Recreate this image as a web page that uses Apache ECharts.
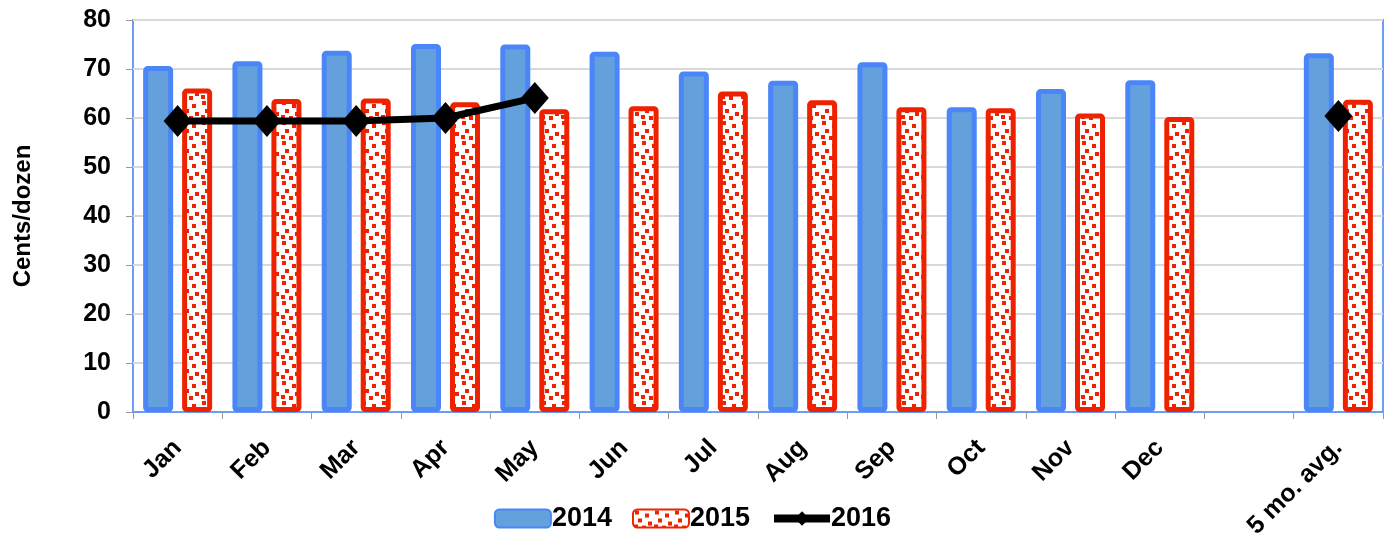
<!DOCTYPE html>
<html>
<head>
<meta charset="utf-8">
<script src="https://cdn.jsdelivr.net/npm/echarts@6/dist/echarts.min.js"></script>
<style>
  html, body { margin: 0; padding: 0; background: #fff; }
  #chart { width: 1385px; height: 538px; }
</style>
</head>
<body>
<div id="chart"></div>
<script>
const months = ['Jan', 'Feb', 'Mar', 'Apr', 'May', 'Jun', 'Jul', 'Aug', 'Sep', 'Oct', 'Nov', 'Dec', '', '5 mo. avg.'];
const yTicks = [0, 10, 20, 30, 40, 50, 60, 70, 80];
const eggs2014 = [70.6, 71.6, 73.7, 75.1, 75.0, 73.5, 69.5, 67.6, 71.4, 62.2, 65.9, 67.7, null, 73.2];
const eggs2015 = [66.0, 63.9, 64.0, 63.2, 61.8, 62.4, 65.4, 63.6, 62.2, 62.0, 60.9, 60.2, null, 63.7];
const eggs2016 = [59.4, 59.4, 59.4, 60.0, 64.1, null, null, null, null, null, null, null, null, 60.4];

// red squares on white, like the dotted fill of the 2015 bars
function makeDots() {
  const c = document.createElement('canvas');
  c.width = 20;
  c.height = 20;
  const g = c.getContext('2d');
  g.fillStyle = '#ffffff';
  g.fillRect(0, 0, 20, 20);
  g.fillStyle = '#ee2200';
  [[2, 1], [12, 4], [5, 9], [15, 12], [1, 15], [9, 16]].forEach(p => {
    g.fillRect(p[0], p[1], 4, 4);
  });
  return c;
}

const dots = makeDots();
const chart = echarts.init(document.getElementById('chart'));

const font = '"Liberation Sans", Arial, sans-serif';

const option = {
  animation: false,
  grid: {
    left: 133,
    right: 2,
    top: 20,
    bottom: 126,
    outerBoundsMode: 'none',
    show: true,
    borderColor: '#6d9cf5',
    borderWidth: 2
  },
  legend: {
    bottom: 1,
    left: 'center',
    itemWidth: 56,
    itemHeight: 18,
    itemGap: 20,
    textStyle: { fontFamily: font, fontWeight: 'bold', fontSize: 27, color: '#000', padding: [0, 0, 0, -4] },
    data: [
      { name: '2014' },
      { name: '2015' },
      { name: '2016', lineStyle: { width: 8 } }
    ]
  },
  xAxis: {
    type: 'category',
    data: months,
    axisLine: { show: true, lineStyle: { color: '#6d9cf5', width: 2 } },
    axisTick: { show: true, length: 7, lineStyle: { color: '#999', width: 1 } },
    axisLabel: {
      interval: 0,
      rotate: 45,
      margin: 32,
      fontFamily: font,
      fontWeight: 'bold',
      fontSize: 25,
      color: '#000'
    }
  },
  yAxis: {
    type: 'value',
    min: yTicks[0],
    max: yTicks[yTicks.length - 1],
    interval: 10,
    name: 'Cents/dozen',
    nameLocation: 'middle',
    nameGap: 98,
    nameTextStyle: { fontFamily: font, fontWeight: 'bold', fontSize: 24, color: '#000' },
    axisLine: { show: false },
    axisTick: { show: true, length: 7, lineStyle: { color: '#999' } },
    axisLabel: { margin: 22, fontFamily: font, fontWeight: 'bold', fontSize: 25, color: '#000' },
    splitLine: { lineStyle: { color: '#d9d9d9', width: 2 } }
  },
  series: [
    {
      name: '2014',
      type: 'bar',
      data: eggs2014,
      barWidth: 30,
      barGap: '30%',
      itemStyle: { color: '#64a0dc', borderColor: '#4a86f7', borderWidth: 5, borderRadius: 2 }
    },
    {
      name: '2015',
      type: 'bar',
      data: eggs2015,
      barWidth: 30,
      itemStyle: {
        color: { image: dots, repeat: 'repeat' },
        borderColor: '#ee2200',
        borderWidth: 5,
        borderRadius: 2
      }
    },
    {
      name: '2016',
      type: 'line',
      data: eggs2016,
      connectNulls: false,
      symbol: 'diamond',
      symbolSize: [28, 32],
      lineStyle: { color: '#000', width: 7 },
      itemStyle: { color: '#000' },
      z: 5
    }
  ]
};

chart.setOption(option);
</script>
</body>
</html>
